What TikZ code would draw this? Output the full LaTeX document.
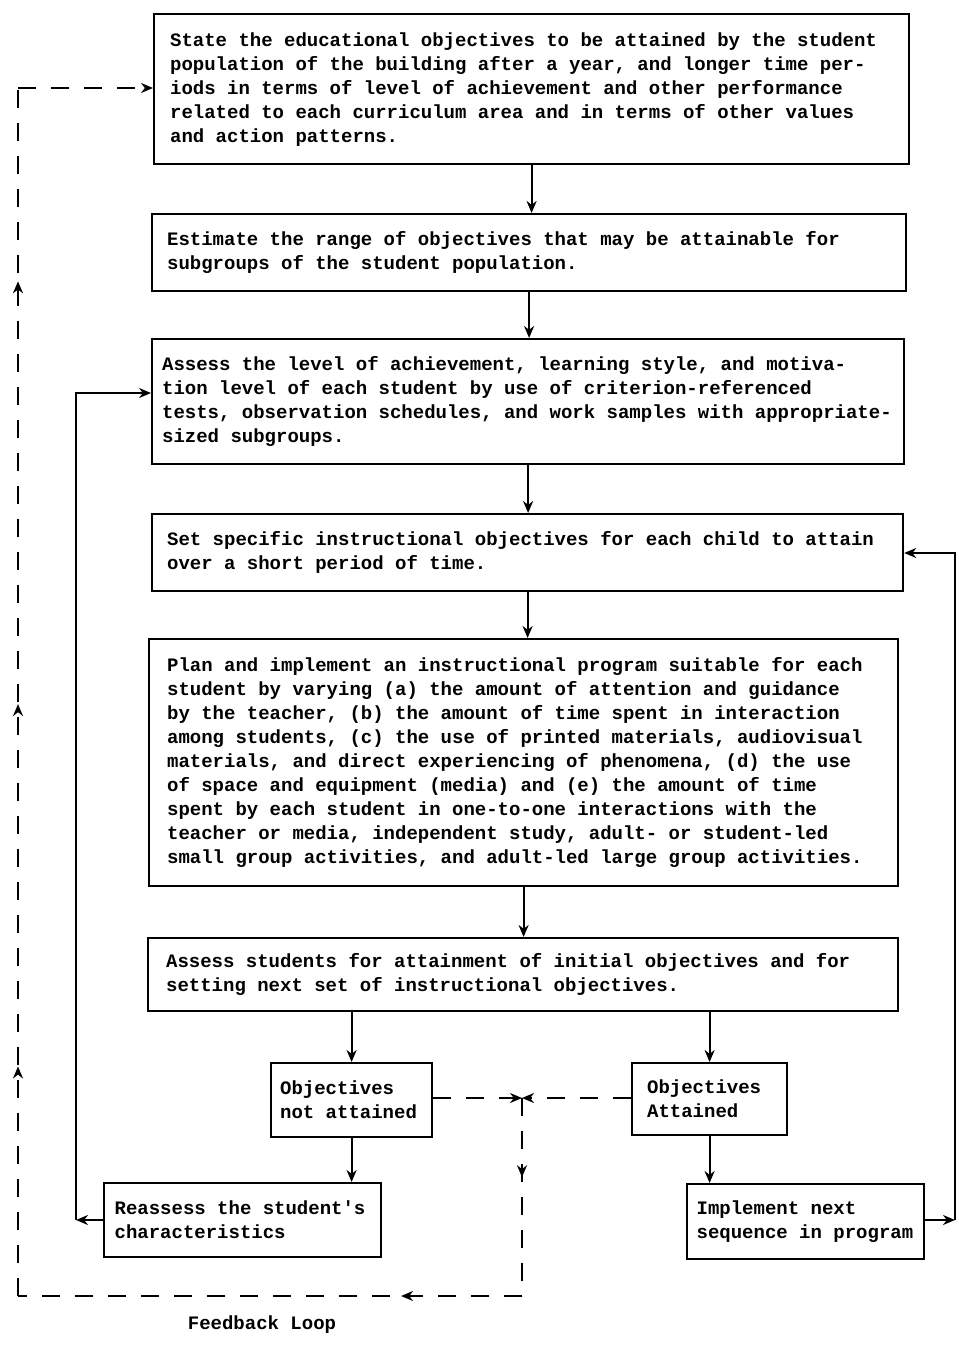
\documentclass[tikz,border=0pt]{standalone}
\usepackage{fontspec}
\newfontfamily\tw{Liberation Mono}
\newcommand\twfont{\tw\bfseries\fontsize{19}{24}\selectfont}
\usetikzlibrary{arrows.meta,decorations.markings}
\tikzset{
  box/.style={draw, line width=2.2pt, inner sep=0pt, align=left, anchor=north west,
    font=\twfont, execute at begin node={\spaceskip=0.6em\relax\xspaceskip=0.6em\relax}},
  arr/.style={line width=2pt, -{Stealth[length=12pt,width=10pt]}},
  fb/.style={line width=2pt, dash pattern=on 18pt off 15pt},
  midarrow/.style={postaction={decorate, decoration={markings,
    mark=at position #1 with {\arrow{Stealth[length=12pt,width=10pt]}}}}},
  lbl/.style={font=\twfont, inner sep=0pt}
}
\begin{document}
\begin{tikzpicture}[x=1pt,y=-1pt]
\useasboundingbox (0,0) rectangle (959,1345);

\node[box, minimum width=755pt, minimum height=150pt, text width=723pt] (b1) at (153,13)
 {State the educational objectives to be attained by the student\\
  population of the building after a year, and longer time per-\\
  iods in terms of level of achievement and other performance\\
  related to each curriculum area and in terms of other values\\
  and action patterns.};
\node[box, minimum width=754pt, minimum height=77pt, text width=724pt] (b2) at (151,213)
 {Estimate the range of objectives that may be attainable for\\
  subgroups of the student population.};
\node[box, minimum width=752pt, minimum height=125pt, text width=732pt] (b3) at (151,338)
 {Assess the level of achievement, learning style, and motiva-\\
  tion level of each student by use of criterion-referenced\\
  tests, observation schedules, and work samples with appropriate-\\
  sized subgroups.};
\node[box, minimum width=751pt, minimum height=77pt, text width=721pt] (b4) at (151,513)
 {Set specific instructional objectives for each child to attain\\
  over a short period of time.};
\node[box, minimum width=749pt, minimum height=247pt, text width=713pt] (b5) at (148,638)
 {Plan and implement an instructional program suitable for each\\
  student by varying (a) the amount of attention and guidance\\
  by the teacher, (b) the amount of time spent in interaction\\
  among students, (c) the use of printed materials, audiovisual\\
  materials, and direct experiencing of phenomena, (d) the use\\
  of space and equipment (media) and (e) the amount of time\\
  spent by each student in one-to-one interactions with the\\
  teacher or media, independent study, adult- or student-led\\
  small group activities, and adult-led large group activities.};
\node[box, minimum width=750pt, minimum height=73pt, text width=714pt] (b6) at (147,937)
 {Assess students for attainment of initial objectives and for\\
  setting next set of instructional objectives.};
\node[box, minimum width=161pt, minimum height=74pt, text width=143pt] (b7) at (270,1062)
 {Objectives\\not attained};
\node[box, minimum width=155pt, minimum height=72pt, text width=125pt] (b8) at (631,1062)
 {Objectives\\Attained};
\node[box, minimum width=277pt, minimum height=74pt, text width=256pt] (b9) at (103,1182)
 {Reassess the student's\\characteristics};
\node[box, minimum width=237pt, minimum height=75pt, text width=218pt] (b10) at (686,1183)
 {Implement next\\sequence in program};

\node[lbl] (fbl) at (262,1325) {Feedback Loop};

% main flow
\draw[arr] (b1.south) -- (b1.south |- b2.north);
\draw[arr] (b2.south) -- (b2.south |- b3.north);
\draw[arr] (b3.south) -- (b3.south |- b4.north);
\draw[arr] (b4.south) -- (b4.south |- b5.north);
\draw[arr] (b5.south) -- (b5.south |- b6.north);
\draw[arr] (b7.north |- b6.south) -- (b7.north);
\draw[arr] (b8.north |- b6.south) -- (b8.north);
\draw[arr] (b7.south) -- (b7.south |- b9.north);
\draw[arr] (b8.south) -- (b8.south |- b10.north);

% reassess loop (left, solid)
\coordinate (cl) at (76,1220);
\coordinate (clt) at (76,393);
\draw[arr] (b9.west |- cl) -- (cl);
\draw[arr] (cl) -- (clt) -- (clt -| b3.west);

% implement loop (right, solid)
\coordinate (cr) at (955,1220);
\coordinate (crt) at (955,553);
\draw[arr] (b10.east |- cr) -- (cr);
\draw[arr] (cr) -- (crt) -- (crt -| b4.east);

% feedback loop (dashed)
\coordinate (j) at (522,1098);
\coordinate (jb) at (522,1296);
\coordinate (fl) at (18,1296);
\coordinate (ft) at (18,88);
\draw[fb, -{Stealth[length=12pt,width=10pt]}] (b7.east |- j) -- (j);
\draw[fb, -{Stealth[length=12pt,width=10pt]}] (b8.west |- j) -- (j);
\draw[fb, midarrow=0.4] (j) -- (jb);
\draw[fb, midarrow=0.24] (jb) -- (fl);
\draw[fb, midarrow=0.19, midarrow=0.49, midarrow=0.84] (fl) -- (ft);
\draw[fb, -{Stealth[length=12pt,width=10pt]}] (ft) -- (ft -| b1.west);
\end{tikzpicture}
\end{document}
